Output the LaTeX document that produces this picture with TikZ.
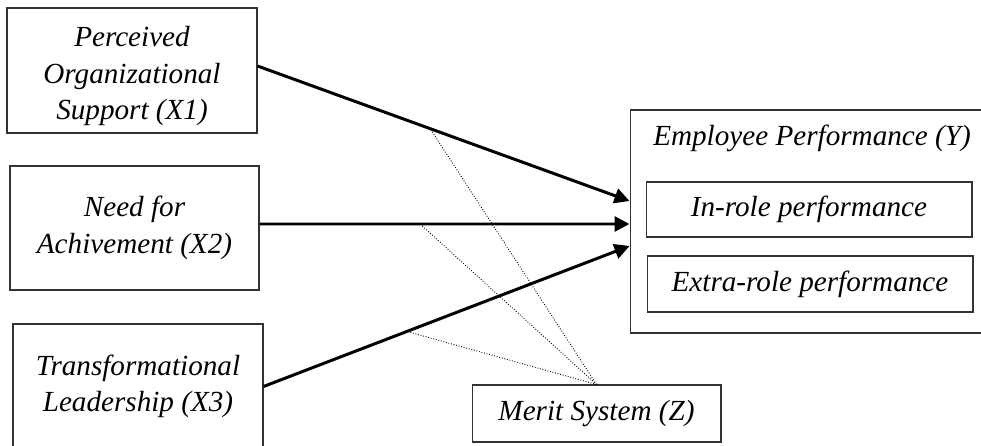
\documentclass[tikz,border=0pt]{standalone}
\usepackage{fontspec}
\setmainfont{Liberation Serif}
\usetikzlibrary{
  arrows.meta,
  positioning,
}

\begin{document}
\begin{tikzpicture}[
    x=0.02cm, y=-0.02cm,
    var/.style={draw=black!80, line width=0.6pt, align=center, inner sep=0pt,
      font=\fontsize{16.6}{20.8}\selectfont\itshape},
    effect/.style={line width=1.7pt, -{Triangle[length=0.3cm, width=0.3cm]}},
    moder/.style={densely dotted, line width=0.5pt, black},
  ]
  \useasboundingbox (0,0) rectangle (981,446);

  % Independent variables
  \node[var, minimum width=5cm, minimum height=2.5cm] (x1) at (132, 70.5)
    {\rule{0pt}{0.64cm}Perceived\\Organizational\\Support (X1)};
  \node[var, minimum width=4.98cm, minimum height=2.48cm] (x2) at (134.5, 228)
    {Need for\\Achivement (X2)};
  \node[var, minimum width=5cm, minimum height=2.5cm] (x3) at (138, 386.5)
    {Transformational\\Leadership (X3)};

  % Dependent variable
  \node[var, minimum width=7.28cm, minimum height=4.46cm] (ybox) at (812, 221.5) {};
  \node[font=\fontsize{16.6}{20.8}\selectfont\itshape, inner sep=0pt] (ytitle) at (812, 138)
    {Employee Performance (Y)};
  \node[var, minimum width=6.52cm, minimum height=1.1cm] (inrole) at (809, 209.5)
    {In-role performance};
  \node[var, minimum width=6.52cm, minimum height=1.12cm] (extrarole) at (810, 284)
    {Extra-role performance};

  % Moderator
  \node[var, minimum width=4.98cm, minimum height=1.14cm] (merit) at (596.5, 413.5)
    {Merit System (Z)};

  % Direct effects
  \draw[effect] ([yshift=0.09cm]x1.east) -- coordinate[pos=0.464] (m1) ([yshift=0.41cm]ybox.west);
  \draw[effect] ([yshift=0.08cm]x2.east) -- coordinate[pos=0.434] (m2) ([yshift=-0.05cm]ybox.west);
  \draw[effect] (x3.east) -- coordinate[pos=0.392] (m3) ([yshift=-0.49cm]ybox.west);

  % Moderating lines
  \draw[moder] (merit.north) -- (m1);
  \draw[moder] (merit.north) -- (m2);
  \draw[moder] (merit.north) -- (m3);
\end{tikzpicture}
\end{document}
